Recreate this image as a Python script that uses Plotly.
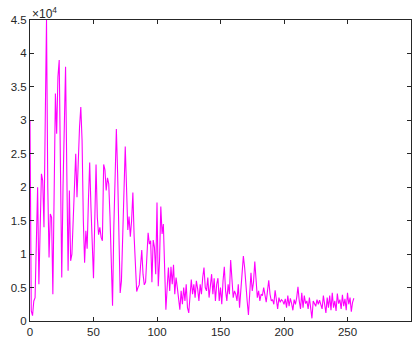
import plotly.graph_objects as go

counts = [
    30000, 1500, 800, 3000, 3500, 12000, 20000, 5500, 14000, 22000,
    21000, 14000, 30000, 45000, 20000, 9500, 16000, 15500, 4000, 20000,
    34000, 28000, 36500, 39000, 25000, 6500, 20000, 28000, 38000, 22000,
    7500, 19500, 9000, 10000, 15500, 19000, 25000, 18500, 25000, 29000,
    32000, 27000, 15000, 8700, 13500, 10800, 18000, 23700, 17000, 11000,
    6400, 15000, 23400, 15500, 12900, 14000, 12500, 12000, 23400, 22600,
    19500, 21400, 20500, 15600, 9000, 2300, 14000, 22000, 28700, 22000,
    12000, 4200, 6000, 14000, 20000, 26100, 20000, 13600, 15600, 12600,
    15000, 19200, 12600, 8000, 4400, 5000, 5400, 8100, 10600, 7000,
    5400, 5800, 9000, 13200, 11500, 12000, 5800, 12100, 11000, 7000,
    17700, 5200, 9000, 17100, 13000, 14500, 8000, 1700, 5000, 8000,
    4500, 8100, 5500, 8400, 4000, 6500, 5000, 3000, 1700, 4500,
    2500, 5000, 3000, 5500, 2000, 1200, 3500, 6200, 4000, 5500,
    3500, 6000, 4800, 3000, 5500, 4000, 6500, 8000, 5000, 4500,
    6500, 3500, 5200, 7000, 4000, 6400, 3000, 5500, 6400, 3000,
    5000, 2500, 6000, 8100, 4500, 3000, 5500, 4000, 9100, 6000,
    3500, 4500, 4000, 3000, 5500, 2000, 5000, 7500, 9700, 8000,
    5000, 3000, 900, 4000, 7200, 4500, 5800, 8900, 6500, 3500,
    4500, 3000, 4000, 3800, 5000, 3500, 2800, 4500, 6100, 4000,
    3000, 3200, 2500, 4600, 3000, 1800, 3500, 2800, 3200, 3000,
    2500, 3300, 2000, 3800, 2200, 3400, 2600, 1600, 3200, 2500,
    3500, 5100, 3000, 1800, 4200, 2000, 3800, 2600, 3000, 1800,
    3500, 2200, 400, 3000, 2700, 2200, 3200, 2500, 3100, 2200,
    1800, 3800, 2000, 1200, 3500, 2000, 3800, 1600, 4200, 2000,
    3000, 1500, 4100, 2600, 3200, 1800, 3900, 2200, 3300, 1600,
    4200, 2500, 3500, 1400, 2800, 3400,
]
levels = list(range(len(counts)))

x_ticks = [0, 50, 100, 150, 200, 250, 300]
y_ticks = [0, 5000, 10000, 15000, 20000, 25000, 30000, 35000, 40000, 45000]
y_tick_labels = ["0", "0.5", "1", "1.5", "2", "2.5", "3", "3.5", "4", "4.5"]

axis_color = "#262626"
font = dict(family="Liberation Sans, Arial, sans-serif", size=11.5, color=axis_color)

fig = go.Figure()
fig.add_trace(go.Scatter(
    x=levels, y=counts, mode="lines",
    line=dict(color="#FF00FF", width=1.1),
    hoverinfo="skip", showlegend=False,
))

fig.update_layout(
    width=420, height=340,
    margin=dict(l=30, r=9, t=20, b=19, autoexpand=False),
    paper_bgcolor="white", plot_bgcolor="white",
    font=font,
    xaxis=dict(
        range=[0, 300], tickvals=x_ticks, showgrid=False, zeroline=False,
        showline=True, linecolor=axis_color, linewidth=1, mirror="ticks",
        ticks="inside", ticklen=4, tickcolor=axis_color, tickfont=font,
        automargin=False,
    ),
    yaxis=dict(
        range=[0, 45000], tickvals=y_ticks, ticktext=y_tick_labels,
        showgrid=False, zeroline=False,
        showline=True, linecolor=axis_color, linewidth=1, mirror="ticks",
        ticks="inside", ticklen=4, tickcolor=axis_color, tickfont=font,
        automargin=False,
    ),
    annotations=[dict(
        text="×10<sup>4</sup>", x=0, y=1, xref="paper", yref="paper",
        xanchor="left", yanchor="bottom", showarrow=False,
        font=dict(family="Liberation Sans, Arial, sans-serif", size=12, color=axis_color),
        xshift=0, yshift=-3,
    )],
)

fig.write_html(
    "out.html",
    config={"displayModeBar": False, "staticPlot": True},
    post_script="document.body.style.margin='0';document.body.style.overflow='hidden';",
)
